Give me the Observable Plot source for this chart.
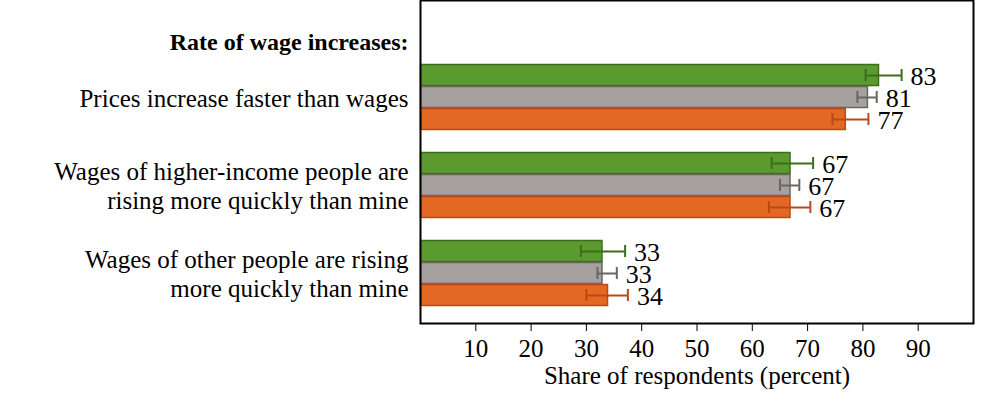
<!DOCTYPE html>
<html><head><meta charset="utf-8">
<script src="https://cdn.jsdelivr.net/npm/d3@7"></script>
<script src="https://cdn.jsdelivr.net/npm/@observablehq/plot@0.6"></script>
<style>body{margin:0;background:#fff}</style>
</head><body><div id="chart"></div>
<script>
const categories = ["Prices increase faster than wages","Wages of higher-income people are\nrising more quickly than mine","Wages of other people are rising\nmore quickly than mine"];
const series = ["green","grey","orange"];
const values = [[83,81,77],[67,67,67],[33,33,34]];
const errLow = [[80.5,79,74.5],[63.5,65,63],[29,32,30]];
const errHigh = [[87,82.5,81],[71,68.5,70.5],[37,35.5,37.5]];
const xTicks = [10,20,30,40,50,60,70,80,90];
const title = "Rate of wage increases:";
const fills = {green:"#5b9a2f",grey:"#a6a19e",orange:"#e36823"};
const strokes = {green:"#3d6d1c",grey:"#6b6663",orange:"#b84a16"};
const errColors = {green:"#3d6d1c",grey:"#6b6663",orange:"#b84a16"};

const domain = [];
categories.forEach((c,i)=>{ if(i>0) domain.push("gap"+i); series.forEach(s=>domain.push(i+"-"+s)); });
const rows = [];
categories.forEach((c,i)=>series.forEach((s,j)=>rows.push({key:i+"-"+s,s,v:values[i][j],lo:errLow[i][j],hi:errHigh[i][j]})));
const labs = categories.map((c,i)=>({key:i+"-grey",c}));
const font = "'Liberation Serif','DejaVu Serif',serif";

const chart = Plot.plot({
  width:995,height:419,marginLeft:420,marginRight:22,marginTop:0,marginBottom:96,
  style:{fontFamily:font,fontSize:"25px",color:"#000",background:"#fff",overflow:"visible"},
  x:{domain:[0,100],ticks:xTicks,label:null},
  y:{domain,range:[61,308],padding:0,axis:null},
  marks:[
    Plot.barX(rows,{y:"key",x:"v",fill:d=>fills[d.s],stroke:d=>strokes[d.s],strokeWidth:1.5,inset:0.5}),
    Plot.ruleY(rows,{y:"key",x1:"lo",x2:"hi",stroke:d=>errColors[d.s],strokeWidth:2}),
    Plot.tickX(rows,{y:"key",x:"lo",stroke:d=>errColors[d.s],strokeWidth:2,inset:5}),
    Plot.tickX(rows,{y:"key",x:"hi",stroke:d=>errColors[d.s],strokeWidth:2,inset:5}),
    Plot.text(rows,{y:"key",x:"hi",text:d=>String(d.v),textAnchor:"start",dx:9,dy:1,fontSize:26,fill:"#000"}),
    Plot.ruleX([90],{y1:"0-green",y2:"0-orange",stroke:"#000",strokeWidth:1,dy:5}),
    Plot.text(labs,{y:"key",x:()=>0,text:"c",textAnchor:"end",dx:-12,fontSize:25,lineHeight:1.15,fill:"#000"}),
    Plot.text([title],{y:()=> "0-green",x:()=>0,text:d=>d,textAnchor:"end",dx:-12,dy:-33,fontSize:24,fontWeight:"bold",fill:"#000"}),
    Plot.axisX({ticks:xTicks,tickSize:8,tickPadding:8,fontSize:25,label:null}),
    Plot.text(["Share of respondents (percent)"],{frameAnchor:"bottom",x:()=>50,dy:60,text:d=>d,fontSize:25,fill:"#000"}),
    Plot.frame({stroke:"#000",strokeWidth:2})
  ]
});
document.getElementById("chart").append(chart);
</script></body></html>
